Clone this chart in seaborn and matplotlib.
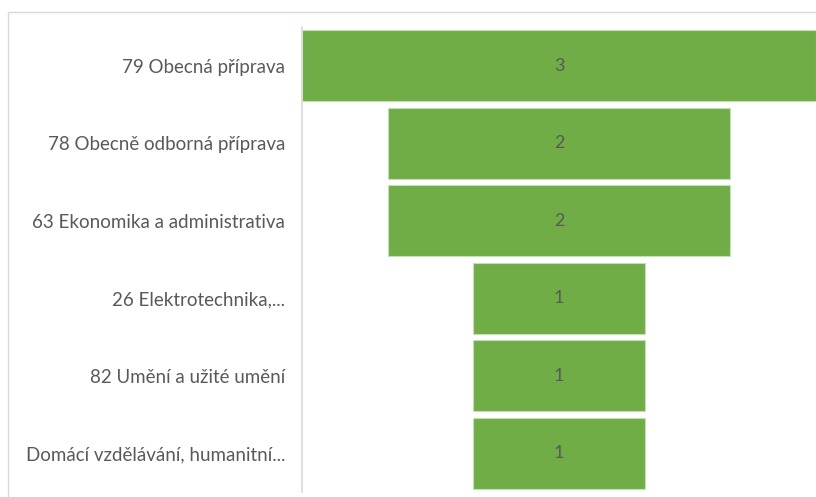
import matplotlib
matplotlib.use("Agg")
import matplotlib.pyplot as plt
import seaborn as sns
import pandas as pd
from matplotlib.patches import Rectangle

categories = [
    "79 Obecná příprava",
    "78 Obecně odborná příprava",
    "63 Ekonomika a administrativa",
    "26 Elektrotechnika,...",
    "82 Umění a užité umění",
    "Domácí vzdělávání, humanitní...",
]
values = [3, 2, 2, 1, 1, 1]

df = pd.DataFrame({"category": categories, "value": values})

sns.set_theme(style="white")
plt.rcParams["font.family"] = ["Lato", "DejaVu Sans"]

fig = plt.figure(figsize=(8.16, 4.97), dpi=100)
ax = fig.add_axes([302 / 816, 1 - 492 / 497, 1 - 302 / 816, (492 - 27) / 497])

sns.barplot(data=df, x="value", y="category", orient="h", color="#70AD47",
            saturation=1, width=0.915, ax=ax, edgecolor="#C5E0B4", linewidth=0.8)

vmax = max(values)
for patch, v in zip(ax.patches, values):
    patch.set_x(-v / 2)
    patch.set_width(v)
    cy = patch.get_y() + patch.get_height() / 2
    ax.text(0, cy, str(v), ha="center", va="center", fontsize=13, color="#595959")

ax.set_xlim(-vmax / 2, vmax / 2)
ax.set_xlabel("")
ax.set_ylabel("")
ax.set_xticks([])
ax.tick_params(axis="y", length=0, pad=12, labelsize=13.5, labelcolor="#595959")
for s in ["top", "right", "bottom"]:
    ax.spines[s].set_visible(False)
ax.spines["left"].set_color("#D9D9D9")
ax.spines["left"].set_linewidth(1.2)

fig.patches.append(Rectangle((8 / 816, -0.05), 1.1, 1 - 12 / 497 + 0.05,
                             transform=fig.transFigure, fill=False,
                             edgecolor="#D9D9D9", linewidth=1, zorder=0))

fig.savefig("out.png", dpi=100, facecolor="white")
